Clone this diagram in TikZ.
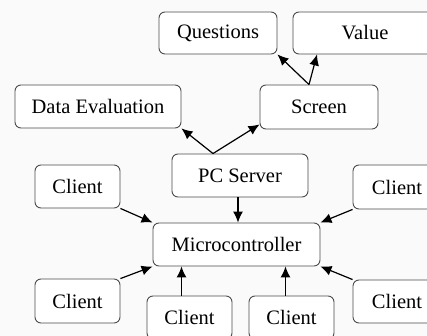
\documentclass[tikz,border=0pt]{standalone}
\usepackage{fontspec}
\setmainfont{Liberation Serif}
\usetikzlibrary{arrows.meta}
\begin{document}
\begin{tikzpicture}[x=1pt,y=-1pt,
  box/.style={draw=black!70,line width=0.9pt,rounded corners=6pt,fill=white,
    inner sep=0pt,font=\fontsize{20.5}{23}\selectfont,text=black},
  arr/.style={line width=1.2pt,-{Latex[length=11pt,width=10pt]}}]
\useasboundingbox (0,0) rectangle (427,336);
\fill[black!2] (0,0) rectangle (427,336);
\node[box,minimum width=118pt,minimum height=42pt] (q) at (218,33) {Questions};
\node[box,minimum width=144pt,minimum height=42pt] (v) at (365,33) {Value};
\node[box,minimum width=118pt,minimum height=44pt] (scr) at (319,107) {Screen};
\node[box,minimum width=166pt,minimum height=43pt] (de) at (98,106.5) {Data Evaluation};
\node[box,minimum width=136pt,minimum height=43pt] (pc) at (240,175.5) {PC Server};
\node[box,minimum width=85pt,minimum height=43pt] (c1) at (77.5,186.5) {Client};
\node[box,minimum width=88pt,minimum height=44pt] (c2) at (397,187) {Client};
\node[box,minimum width=167pt,minimum height=43pt] (mc) at (236.5,244.5) {Microcontroller};
\node[box,minimum width=85pt,minimum height=44pt] (c3) at (77.5,301) {Client};
\node[box,minimum width=85pt,minimum height=43pt] (c4) at (189.5,317.5) {Client};
\node[box,minimum width=85pt,minimum height=43pt] (c5) at (291.5,317.5) {Client};
\node[box,minimum width=88pt,minimum height=43pt] (c6) at (397,301.5) {Client};
\coordinate (st) at ([xshift=-10pt]scr.north);
\coordinate (pt) at ([xshift=-27pt]pc.north);
\draw[arr] (st) -- (q.south east);
\draw[arr] (st) -- ([xshift=-48pt]v.south);
\draw[arr] (pt) -- (de.south east);
\draw[arr] (pt) -- ([yshift=5pt]scr.south west);
\draw[arr] ([xshift=-2pt]pc.south) -- ([xshift=-2pt]pc.south |- mc.north);
\draw[arr] (c1.south east) -- (mc.north west);
\draw[arr] (c2.south west) -- (mc.north east);
\draw[arr] (c3.north east) -- (mc.south west);
\draw[arr] ([xshift=-8pt]c4.north) -- ([xshift=-8pt]c4.north |- mc.south);
\draw[arr] ([xshift=-6pt]c5.north) -- ([xshift=-6pt]c5.north |- mc.south);
\draw[arr] (c6.north west) -- (mc.south east);
\end{tikzpicture}
\end{document}
